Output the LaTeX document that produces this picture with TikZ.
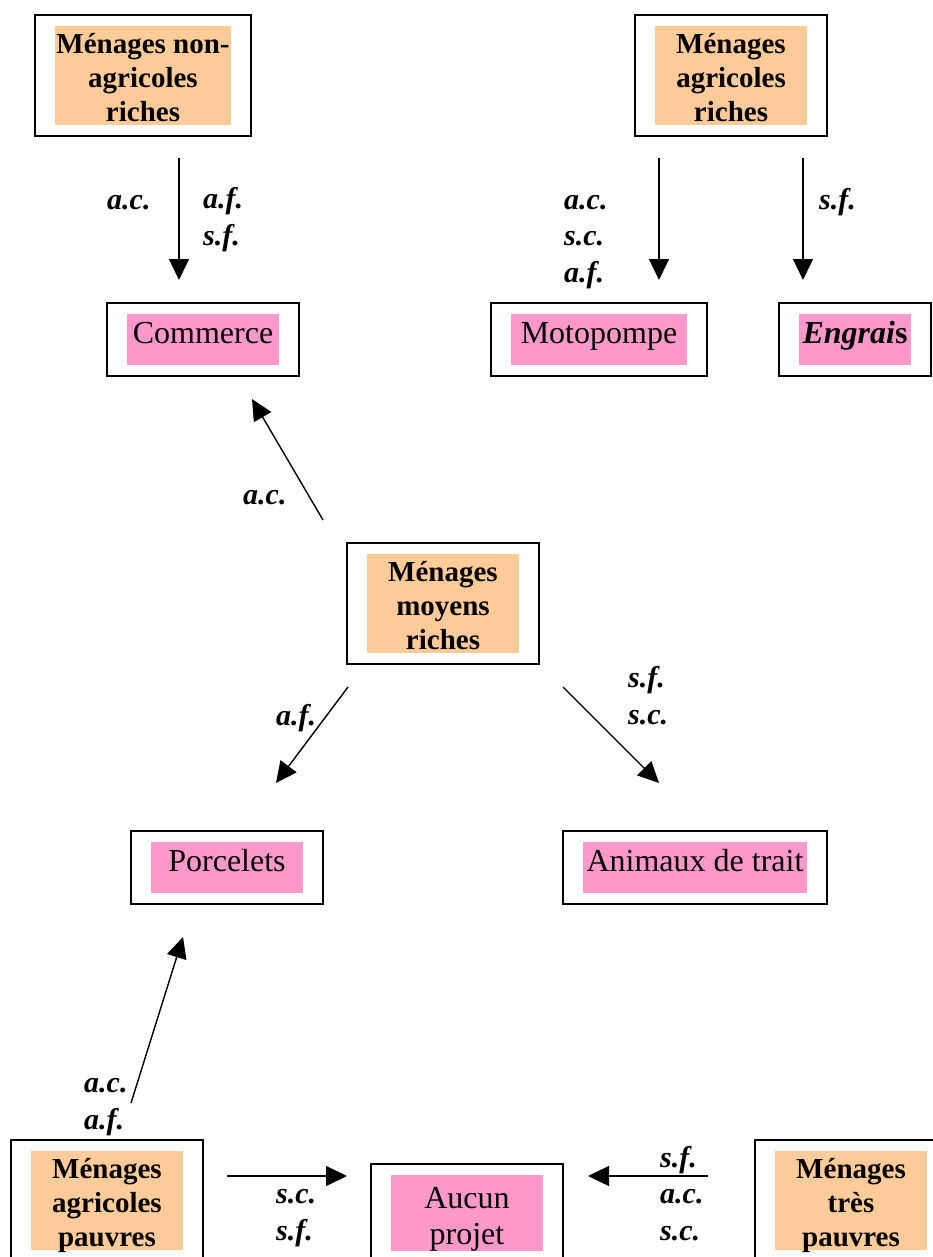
\documentclass[tikz,border=0pt]{standalone}
\usepackage{fontspec}
\setmainfont{Liberation Serif}
\usetikzlibrary{arrows.meta,fit}
\definecolor{orangeclair}{RGB}{255,204,153}
\definecolor{roseclair}{RGB}{255,153,204}

\begin{document}
\begin{tikzpicture}[x=1pt,y=-1pt,
    menage/.style={fill=orangeclair, inner sep=0pt, align=center,
      text height=92pt, text depth=0pt,
      font=\fontsize{29}{34}\selectfont\bfseries},
    projet/.style={fill=roseclair, inner sep=0pt, align=center,
      font=\fontsize{32}{36}\selectfont},
    uneligne/.style={text height=22pt, text depth=14pt},
    cadre/.style={draw, line width=1.5pt, inner xsep=20pt, inner ysep=11pt},
    lbl/.style={font=\fontsize{30}{36.5}\selectfont\bfseries\itshape,
      inner sep=0pt, align=left, anchor=base west},
    fleche/.style={-{Triangle[length=21pt,width=20pt]}, line width=1.4pt}]
    \useasboundingbox (0,0) rectangle (933,1257);

    % Menages (top row)
    \node[menage, minimum width=176pt, minimum height=99pt] (nar-t) at (143,75.5) {Ménages non-\\agricoles\\riches};
    \node[cadre, fit=(nar-t)] (nar) {};
    \node[menage, minimum width=152pt, minimum height=99pt] (ar-t) at (731,75.5) {Ménages\\agricoles\\riches};
    \node[cadre, fit=(ar-t)] (ar) {};

    % projets (second row)
    \node[projet, uneligne, minimum width=152pt, minimum height=51pt] (com-t) at (203,339.5) {Commerce};
    \node[cadre, fit=(com-t)] (com) {};
    \node[projet, uneligne, minimum width=176pt, minimum height=51pt] (moto-t) at (599,339.5) {Motopompe};
    \node[cadre, fit=(moto-t)] (moto) {};
    \node[projet, uneligne, minimum width=112pt, minimum height=51pt] (engr-t) at (855,339.5) {\textbf{\textit{Engrai}s}};
    \node[cadre, fit=(engr-t)] (engr) {};

    % Menages moyens riches
    \node[menage, minimum width=152pt, minimum height=99pt] (mmr-t) at (443,603.5) {Ménages\\moyens\\riches};
    \node[cadre, fit=(mmr-t)] (mmr) {};

    % projets (third row)
    \node[projet, uneligne, minimum width=152pt, minimum height=51pt] (porc-t) at (227,867.5) {Porcelets};
    \node[cadre, fit=(porc-t)] (porc) {};
    \node[projet, uneligne, minimum width=224pt, minimum height=51pt] (anim-t) at (695,867.5) {Animaux de trait};
    \node[cadre, fit=(anim-t)] (anim) {};

    % bottom row
    \node[menage, minimum width=152pt, minimum height=99pt] (apa-t) at (107,1200.5) {Ménages\\agricoles\\pauvres};
    \node[cadre, fit=(apa-t)] (apa) {};
    \node[projet, text height=63pt, text depth=0pt, minimum width=152pt, minimum height=76pt] (aucun-t) at (467,1213) {Aucun\\projet};
    \node[cadre, fit=(aucun-t)] (aucun) {};
    \node[menage, minimum width=152pt, minimum height=99pt] (tp-t) at (851,1200.5) {Ménages\\très\\pauvres};
    \node[cadre, fit=(tp-t)] (tp) {};

    % arrow ends
    \coordinate (nar-o) at (179,158);  \coordinate (com-i) at (179,280);
    \coordinate (ar-o1) at (659,158);  \coordinate (moto-i) at (659,280);
    \coordinate (ar-o2) at (803,158);  \coordinate (engr-i) at (803,280);
    \coordinate (mmr-o1) at (323,520); \coordinate (com-i2) at (252,399);
    \coordinate (mmr-o2) at (348,687); \coordinate (porc-i) at (276,783);
    \coordinate (mmr-o3) at (563,687); \coordinate (anim-i) at (659,783);
    \coordinate (apa-o1) at (131,1103); \coordinate (porc-i2) at (183,937);
    \coordinate (apa-o2) at (227,1176); \coordinate (aucun-i1) at (347,1176);
    \coordinate (tp-o) at (708,1176);  \coordinate (aucun-i2) at (588,1176);

    \draw[fleche] (nar-o) -- (com-i);
    \draw[fleche] (ar-o1) -- (moto-i);
    \draw[fleche] (ar-o2) -- (engr-i);
    \draw[fleche] (mmr-o1) -- (com-i2);
    \draw[fleche] (mmr-o2) -- (porc-i);
    \draw[fleche] (mmr-o3) -- (anim-i);
    \draw[fleche] (apa-o1) -- (porc-i2);
    \draw[fleche] (apa-o2) -- (aucun-i1);
    \draw[fleche] (tp-o) -- (aucun-i2);

    % labels (base = last line)
    \node[lbl] (l1a) at (107,210) {a.c.};
    \node[lbl] (l1b) at (203,245) {a.f.\\s.f.};
    \node[lbl] (l2) at (564,282) {a.c.\\s.c.\\a.f.};
    \node[lbl] (l3) at (819,210) {s.f.};
    \node[lbl] (l4) at (243,504) {a.c.};
    \node[lbl] (l5) at (276,725) {a.f.};
    \node[lbl] (l6) at (628,724) {s.f.\\s.c.};
    \node[lbl] (l7) at (84,1129) {a.c.\\a.f.};
    \node[lbl] (l8) at (276,1240) {s.c.\\s.f.};
    \node[lbl] (l9) at (660,1240) {s.f.\\a.c.\\s.c.};
\end{tikzpicture}
\end{document}
